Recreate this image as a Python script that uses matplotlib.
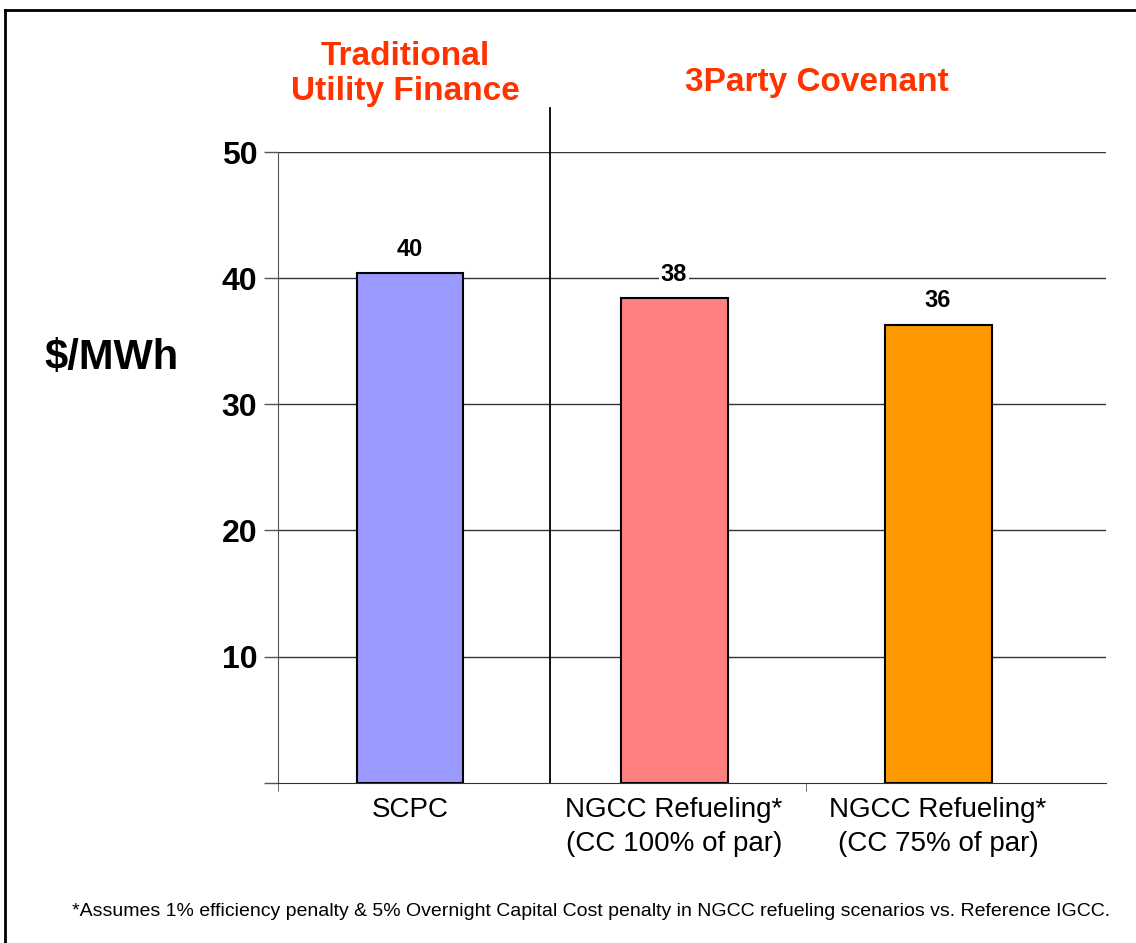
import matplotlib
matplotlib.use("Agg")
import matplotlib.pyplot as plt
from matplotlib.lines import Line2D

plt.rcParams["font.family"] = ["Liberation Sans", "DejaVu Sans"]

# cost of electricity by scenario, $/MWh
categories = ["SCPC", "NGCC Refueling*\n(CC 100% of par)", "NGCC Refueling*\n(CC 75% of par)"]
values = [40.4, 38.4, 36.3]
colors = ["#9999FF", "#FF8080", "#FF9900"]
yticks = [0, 10, 20, 30, 40, 50]
ytick_labels = ["", "10", "20", "30", "40", "50"]
group_titles = ["Traditional\nUtility Finance", "3Party Covenant"]
footnote = ("*Assumes 1% efficiency penalty & 5% Overnight Capital Cost penalty "
            "in NGCC refueling scenarios vs. Reference IGCC.")

W, H = 1136, 943
fig = plt.figure(figsize=(W / 100, H / 100), dpi=100)
ax = fig.add_axes([278 / W, 1 - 782.7 / H, (1106 - 278) / W, (782.7 - 152) / H])

x = list(range(len(values)))
ax.bar(x, values, width=0.405, color=colors, edgecolor="black", linewidth=1.5, zorder=3)
for xi, v in zip(x, values):
    ax.annotate(f"{v:.0f}", (xi, v), xytext=(0, 9), textcoords="offset points",
                ha="center", va="bottom", fontsize=17, fontweight="bold", zorder=4,
                bbox=dict(facecolor="white", edgecolor="none", pad=1))

ax.set_xlim(-0.5, 2.636)
ax.set_ylim(0, 50)
ax.set_yticks(yticks)
ax.set_yticklabels(ytick_labels, fontsize=23, fontweight="bold")
ax.tick_params(axis="y", length=10, width=1, color="#555555", pad=5)
for y in yticks[1:]:
    ax.axhline(y, color="#333333", lw=1, zorder=1)

ax.set_xticks(x)
ax.set_xticklabels(categories, fontsize=20, linespacing=1.4)
ax.tick_params(axis="x", length=0, pad=10)
ax.set_xticks([-0.5, 1.5], minor=True)
ax.tick_params(axis="x", which="minor", length=6, color="#555555")

for s in ("top", "right"):
    ax.spines[s].set_visible(False)
ax.spines["left"].set_color("#555555")
ax.spines["bottom"].set_color("#333333")

# divider between financing structures
ax.plot([0.53, 0.53], [0, 53.5], color="black", lw=1.3, clip_on=False, zorder=2)

fig.text(405 / W, 1 - 74 / H, group_titles[0], ha="center", va="center", fontsize=24,
         fontweight="bold", color="#FF3300", linespacing=1.2)
fig.text(817 / W, 1 - 83 / H, group_titles[1], ha="center", va="center", fontsize=24,
         fontweight="bold", color="#FF3300")
fig.text(112 / W, 1 - 358 / H, "$/MWh", ha="center", va="center", fontsize=30,
         fontweight="bold")
fig.text(1110 / W, 1 - 912 / H, footnote, ha="right", va="center", fontsize=14)

# outer frame
fig.add_artist(Line2D([5 / W, 5 / W], [0, 1 - 10 / H], color="black", lw=2))
fig.add_artist(Line2D([5 / W, 1], [1 - 10 / H, 1 - 10 / H], color="black", lw=2))

fig.savefig("out.png", dpi=100)
